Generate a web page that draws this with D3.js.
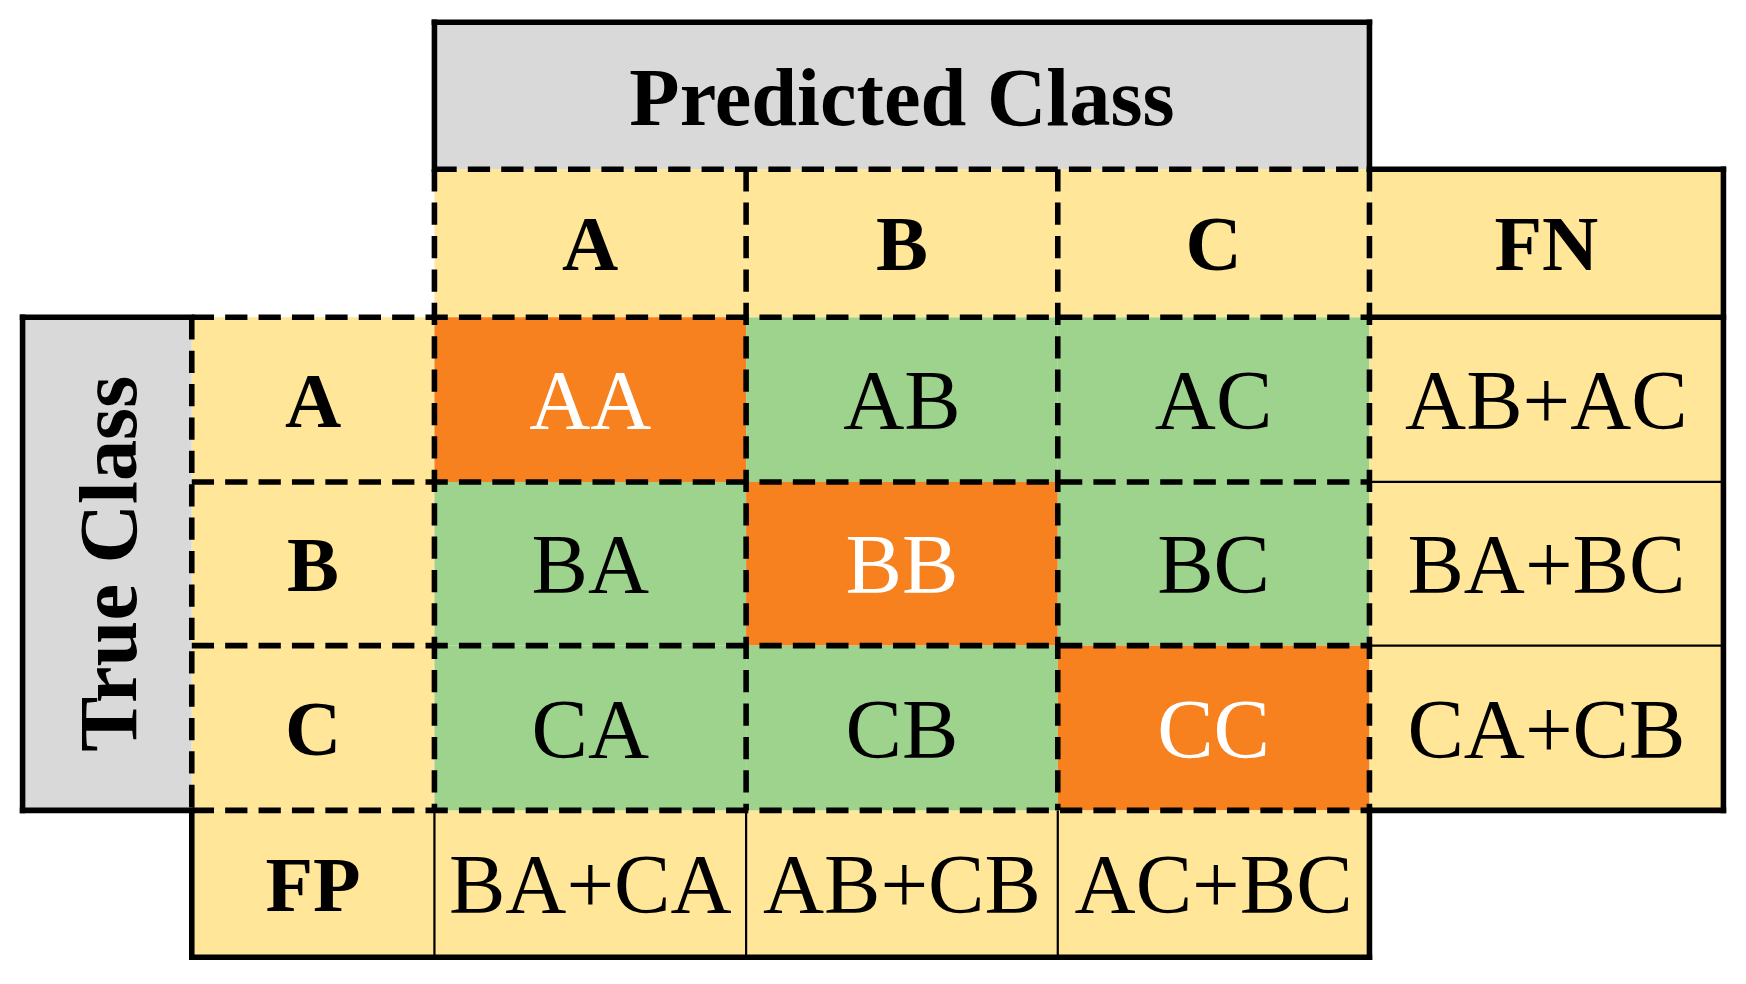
<!DOCTYPE html>
<html><head><meta charset="utf-8">
<script src="https://cdn.jsdelivr.net/npm/d3@7"></script>
<style>html,body{margin:0;padding:0;background:#fff;overflow:hidden}</style>
</head><body>
<svg id="c" width="1746" height="984" viewBox="0 0 1568 884"></svg>
<script>
const classes = ["A","B","C"];
const cellLabels = [["AA","AB","AC"],["BA","BB","BC"],["CA","CB","CC"]];
const fnLabels = ["AB+AC","BA+BC","CA+CB"];
const fpLabels = ["BA+CA","AB+CB","AC+BC"];
const colTitle = "Predicted Class", rowTitle = "True Class";

const colKeys = ["title","label","A","B","C","FN","end"];
const rowKeys = ["title","label","A","B","C","FP","end"];
const x = d3.scaleOrdinal().domain(colKeys).range([20,172,390,670,950,1230,1548]);
const y = d3.scaleOrdinal().domain(rowKeys).range([20,152,285,433,580,728,860]);
const next = k => colKeys[colKeys.indexOf(k)+1];
const nextR = k => rowKeys[rowKeys.indexOf(k)+1];

const C = {yellow:"#FFE699", orange:"#F7801F", green:"#9DD38C", gray:"#D9D9D9"};
const svg = d3.select("#c");
const font = "'Liberation Serif','DejaVu Serif',serif";

function cell(cx, ry, fill, text, bold, color){
  const x0=x(cx), x1=x(next(cx)), y0=y(ry), y1=y(nextR(ry));
  svg.append("rect").attr("x",x0).attr("y",y0).attr("width",x1-x0).attr("height",y1-y0).attr("fill",fill);
  if(text) svg.append("text").attr("x",(x0+x1)/2).attr("y",(y0+y1)/2).attr("dy","0.35em")
    .attr("text-anchor","middle").attr("font-family",font).attr("font-size",bold?70:76)
    .attr("font-weight",bold?"bold":"normal").attr("fill",color||"#000").text(text);
}
svg.append("rect").attr("x",x("A")).attr("y",y("title")).attr("width",x("FN")-x("A")).attr("height",y("label")-y("title")).attr("fill",C.gray);
svg.append("text").attr("x",(x("A")+x("FN"))/2).attr("y",(y("title")+y("label"))/2).attr("dy","0.35em")
  .attr("text-anchor","middle").attr("font-family",font).attr("font-size",74).attr("font-weight","bold").text(colTitle);
svg.append("rect").attr("x",x("title")).attr("y",y("A")).attr("width",x("label")-x("title")).attr("height",y("FP")-y("A")).attr("fill",C.gray);
const tcx=(x("title")+x("label"))/2, tcy=(y("A")+y("FP"))/2;
svg.append("text").attr("transform",`translate(${tcx},${tcy}) rotate(-90)`).attr("dy","0.35em")
  .attr("text-anchor","middle").attr("font-family",font).attr("font-size",74).attr("font-weight","bold").text(rowTitle);

classes.forEach((c,i)=>{
  cell(c,"label",C.yellow,c,true);
  cell("label",c,C.yellow,c,true);
  classes.forEach((p,j)=>{
    const diag=i===j;
    cell(p,c,diag?C.orange:C.green,cellLabels[i][j],false,diag?"#fff":"#000");
  });
  cell("FN",c,C.yellow,fnLabels[i],false);
  cell(c,"FP",C.yellow,fpLabels[i],false);
});
cell("FN","label",C.yellow,"FN",true);
cell("label","FP",C.yellow,"FP",true);

function line(x1,y1,x2,y2,type){
  const l=svg.append("line").attr("x1",x1).attr("y1",y1).attr("x2",x2).attr("y2",y2).attr("stroke","#000");
  if(type==="dash") l.attr("stroke-width",5).attr("stroke-dasharray","20,10");
  else if(type==="thin") l.attr("stroke-width",2);
  else l.attr("stroke-width",5).attr("stroke-linecap","square");
}
["A","B","C"].forEach(r=>line(x("FN"),y(r),x("end"),y(r),"thin"));
line(x("FN"),y("A"),x("end"),y("A"),"thick");
["A","B","C"].forEach(c=>line(x(c),y("FP"),x(c),y("end"),"thin"));
["A","B","C","FP"].forEach(r=>line(x("label"),y(r),x("FN"),y(r),"dash"));
line(x("A"),y("label"),x("FN"),y("label"),"dash");
["A","B","C","FN"].forEach(c=>line(x(c),y("label"),x(c),y("FP"),"dash"));
line(x("label"),y("A"),x("label"),y("FP"),"dash");
const P=(pts)=>{for(let i=0;i<pts.length-1;i++)line(pts[i][0],pts[i][1],pts[i+1][0],pts[i+1][1],"thick");};
P([[x("A"),y("label")],[x("A"),y("title")],[x("FN"),y("title")],[x("FN"),y("label")]]);
P([[x("FN"),y("label")],[x("end"),y("label")],[x("end"),y("FP")],[x("FN"),y("FP")]]);
P([[x("label"),y("A")],[x("title"),y("A")],[x("title"),y("FP")],[x("label"),y("FP")]]);
P([[x("label"),y("FP")],[x("label"),y("end")],[x("FN"),y("end")],[x("FN"),y("FP")]]);
</script>
</body></html>
